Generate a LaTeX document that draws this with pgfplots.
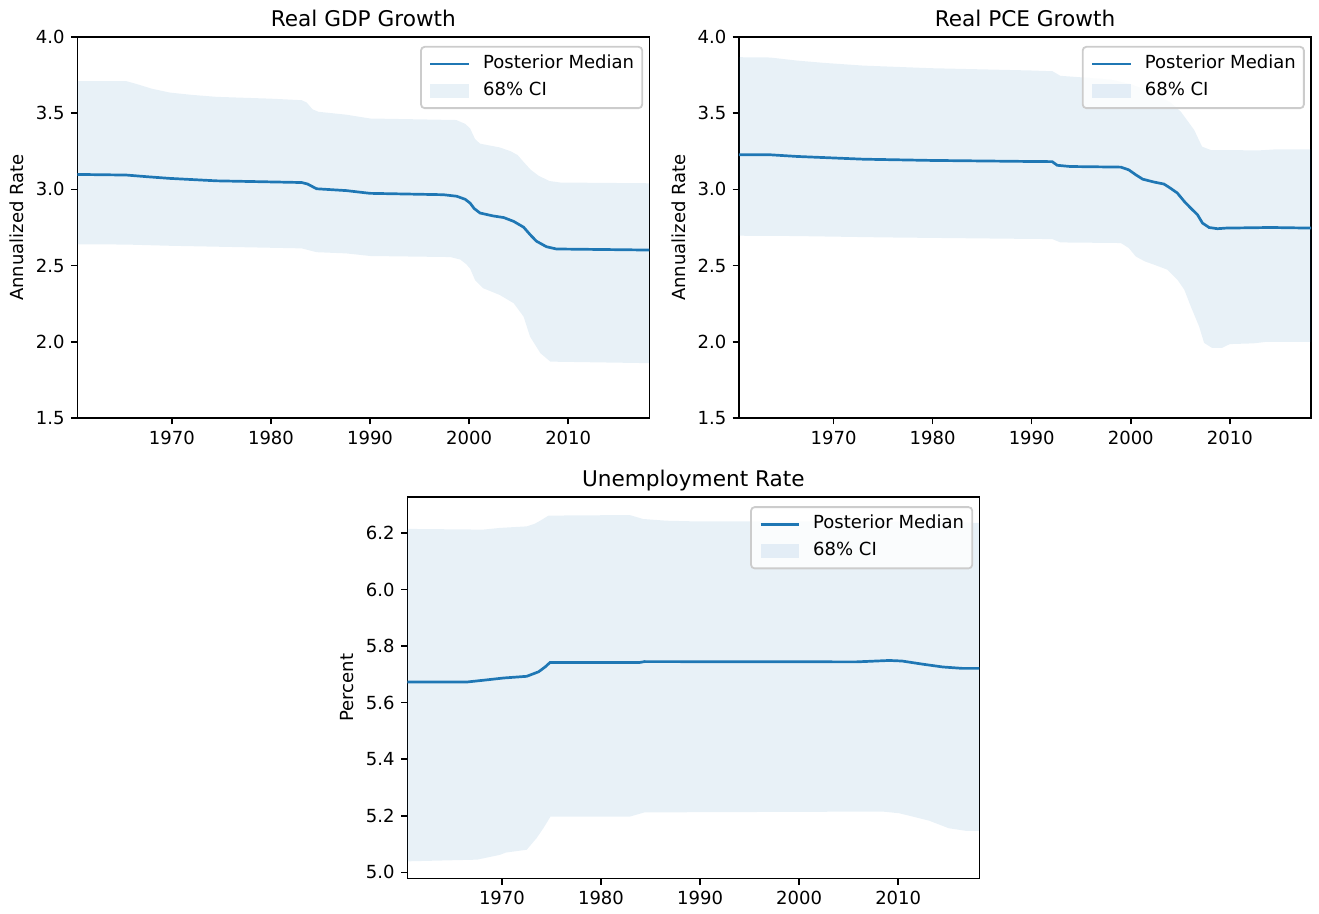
\documentclass[border=0pt]{standalone}
\usepackage{fontspec}
\setmainfont{DejaVu Sans}
\usepackage{pgfplots}
\pgfplotsset{compat=1.18}
\usepgfplotslibrary{fillbetween}
\definecolor{c0}{RGB}{31,119,180}
\definecolor{framegray}{RGB}{204,204,204}

\pgfplotsset{
  panel/.style={
    scale only axis, width=317.5pt, height=211.5pt,
    xmin=1960.45, xmax=2018.2,
    xtick={1970,1980,1990,2000,2010},
    tick pos=left, tick align=outside,
    major tick length=3.5pt,
    every tick/.style={black, line width=0.8pt},
    axis line style={line width=0.8pt},
    /pgf/number format/assume math mode=true,
    xticklabel style={/pgf/number format/1000 sep={}},
    yticklabel style={/pgf/number format/.cd, fixed, fixed zerofill, precision=1},
    tick label style={font=\fontsize{10}{12}\selectfont},
    label style={font=\fontsize{10}{12}\selectfont},
    title style={font=\fontsize{12}{14}\selectfont, at={(0.5,1)}, anchor=base},
    legend style={at={(1,1)}, anchor=north east, xshift=-3.5pt, yshift=-5pt,
      draw=framegray, line width=1pt, rounded corners=2pt,
      fill=white, fill opacity=0.8, text opacity=1,
      inner xsep=4.5pt, inner ysep=4.5pt, row sep=5pt,
      font=\fontsize{10}{12}\selectfont,
      nodes={inner sep=0pt, text height=7.5pt, text depth=2.5pt},
      /tikz/every odd column/.append style={column sep=7pt}},
    legend cell align=left,
  },
  median/.style={c0, line width=1.5pt},
  band/.style={fill=c0, fill opacity=0.1, draw=none, forget plot},
  medlegend/.style={legend image code/.code={\draw[c0, line width=1.5pt, sharp corners] (0pt,0pt) -- (21.5pt,0pt);}},
  bandlegend/.style={legend image code/.code={\path[fill=c0, fill opacity=0.1, draw=none, sharp corners] (0pt,-4pt) rectangle (21.5pt,4pt);}},
}

\begin{document}
\begin{tikzpicture}
\path (0pt,0pt) rectangle (732pt,506.7pt);

% Real GDP growth
\begin{axis}[panel, at={(42.9pt,274.7pt)}, anchor=south west,
  ymin=1.5, ymax=4.0, ytick={1.5,2.0,2.5,3.0,3.5,4.0},
  title={Real GDP Growth}, ylabel={Annualized Rate}]
\addplot[draw=none, name path=gdphi, forget plot] coordinates {
(1960.45,3.710) (1965.4,3.710) (1966.5,3.690) (1968.0,3.660) (1969.8,3.635)
(1972.0,3.620) (1974.5,3.607) (1980.0,3.595) (1983.1,3.585) (1983.6,3.570)
(1984.2,3.525) (1984.8,3.509) (1987.6,3.490) (1990.0,3.465) (1998.7,3.455)
(1999.6,3.430) (2000.1,3.400) (2000.6,3.330) (2001.1,3.300) (2003.1,3.275)
(2004.2,3.250) (2004.9,3.225) (2005.5,3.180) (2006.2,3.130) (2007.0,3.090)
(2008.1,3.055) (2009.2,3.045) (2018.2,3.040)};
\addplot[draw=none, name path=gdplo, forget plot] coordinates {
(1960.45,2.640) (1965.4,2.638) (1969.8,2.630) (1974.5,2.624) (1983.1,2.613)
(1984.6,2.588) (1987.6,2.580) (1990.0,2.563) (1998.1,2.556) (1999.1,2.540)
(1999.7,2.510) (2000.1,2.480) (2000.6,2.405) (2001.4,2.352) (2003.1,2.307)
(2004.5,2.253) (2005.5,2.165) (2006.15,2.034) (2007.2,1.925) (2008.2,1.870)
(2018.2,1.860)};
\addplot[band] fill between[of=gdphi and gdplo];
\addplot[median, forget plot] coordinates {
(1960.45,3.098) (1965.4,3.094) (1967.5,3.083) (1969.8,3.072) (1974.5,3.056)
(1983.1,3.045) (1983.7,3.035) (1984.6,3.004) (1987.6,2.992) (1990.0,2.974)
(1997.4,2.965) (1998.75,2.955) (1999.6,2.935) (2000.1,2.910) (2000.5,2.875)
(2001.1,2.845) (2002.4,2.826) (2003.5,2.815) (2004.5,2.790) (2005.5,2.752)
(2006.2,2.700) (2006.8,2.660) (2007.8,2.624) (2008.8,2.609) (2018.2,2.602)};
\addlegendimage{medlegend}
\addlegendentry{Posterior Median}
\addlegendimage{bandlegend}
\addlegendentry{68\% CI}
\end{axis}

% Real PCE growth
\begin{axis}[panel, at={(410.1pt,274.7pt)}, anchor=south west,
  ymin=1.5, ymax=4.0, ytick={1.5,2.0,2.5,3.0,3.5,4.0},
  title={Real PCE Growth}, ylabel={Annualized Rate}]
\addplot[draw=none, name path=pcehi, forget plot] coordinates {
(1960.45,3.867) (1963.6,3.865) (1966.3,3.845) (1969.0,3.830) (1973.0,3.812)
(1979.8,3.795) (1989.9,3.780) (1992.1,3.775) (1992.9,3.745) (1995.0,3.735)
(1998.0,3.720) (2000.0,3.690) (2002.0,3.640) (2004.0,3.570) (2005.05,3.510)
(2006.4,3.390) (2007.2,3.280) (2008.1,3.258) (2013.0,3.256) (2014.5,3.262)
(2018.2,3.262)};
\addplot[draw=none, name path=pcelo, forget plot] coordinates {
(1960.45,2.696) (1966.0,2.694) (1975.0,2.685) (1989.9,2.675) (1992.07,2.674)
(1992.9,2.652) (1999.0,2.648) (1999.8,2.615) (2000.5,2.560) (2001.4,2.528)
(2002.35,2.506) (2003.7,2.473) (2004.7,2.408) (2005.4,2.342) (2006.05,2.233)
(2006.9,2.100) (2007.4,1.993) (2008.2,1.960) (2009.2,1.960) (2010.0,1.985)
(2012.4,1.990) (2013.7,2.000) (2018.2,2.000)};
\addplot[band] fill between[of=pcehi and pcelo];
\addplot[median, forget plot] coordinates {
(1960.45,3.227) (1963.6,3.227) (1966.3,3.216) (1973.0,3.198) (1979.8,3.190)
(1989.9,3.183) (1992.07,3.182) (1992.57,3.158) (1993.9,3.150) (1999.0,3.146)
(1999.8,3.128) (2000.5,3.096) (2001.2,3.067) (2002.35,3.048) (2003.35,3.035)
(2004.0,3.008) (2004.7,2.976) (2005.4,2.921) (2006.05,2.877) (2006.73,2.834)
(2007.24,2.779) (2007.9,2.750) (2008.75,2.742) (2009.6,2.746) (2014.1,2.750)
(2018.2,2.746)};
\addlegendimage{medlegend}
\addlegendentry{Posterior Median}
\addlegendimage{bandlegend}
\addlegendentry{68\% CI}
\end{axis}

% Unemployment rate
\begin{axis}[panel, at={(226.05pt,19.26pt)}, anchor=south west,
  ymin=4.979, ymax=6.326, ytick={5.0,5.2,5.4,5.6,5.8,6.0,6.2},
  title={Unemployment Rate}, ylabel={Percent}]
\addplot[draw=none, name path=urhi, forget plot] coordinates {
(1960.45,6.214) (1968.1,6.2115) (1969.8,6.2175) (1972.5,6.223) (1973.3,6.232)
(1973.86,6.243) (1974.7,6.261) (1982.9,6.263) (1984.26,6.249) (1986.6,6.243)
(1989.0,6.241) (2010.0,6.240) (2016.0,6.237) (2018.2,6.235)};
\addplot[draw=none, name path=urlo, forget plot] coordinates {
(1960.45,5.039) (1967.5,5.045) (1969.8,5.062) (1970.4,5.070) (1972.5,5.080)
(1973.5,5.121) (1974.2,5.157) (1974.9,5.197) (1982.9,5.197) (1984.4,5.212)
(2008.4,5.215) (2010.1,5.209) (2013.1,5.183) (2015.1,5.156) (2016.8,5.147)
(2018.2,5.147)};
\addplot[band] fill between[of=urhi and urlo];
\addplot[median, forget plot] coordinates {
(1960.45,5.673) (1966.5,5.673) (1968.1,5.679) (1970.16,5.687) (1972.5,5.693)
(1973.7,5.709) (1974.36,5.726) (1974.86,5.742) (1983.9,5.742) (1984.4,5.745)
(2005.75,5.744) (2009.1,5.749) (2010.4,5.747) (2012.45,5.736) (2014.5,5.726)
(2016.5,5.721) (2018.2,5.721)};
\addlegendimage{medlegend}
\addlegendentry{Posterior Median}
\addlegendimage{bandlegend}
\addlegendentry{68\% CI}
\end{axis}
\end{tikzpicture}
\end{document}
